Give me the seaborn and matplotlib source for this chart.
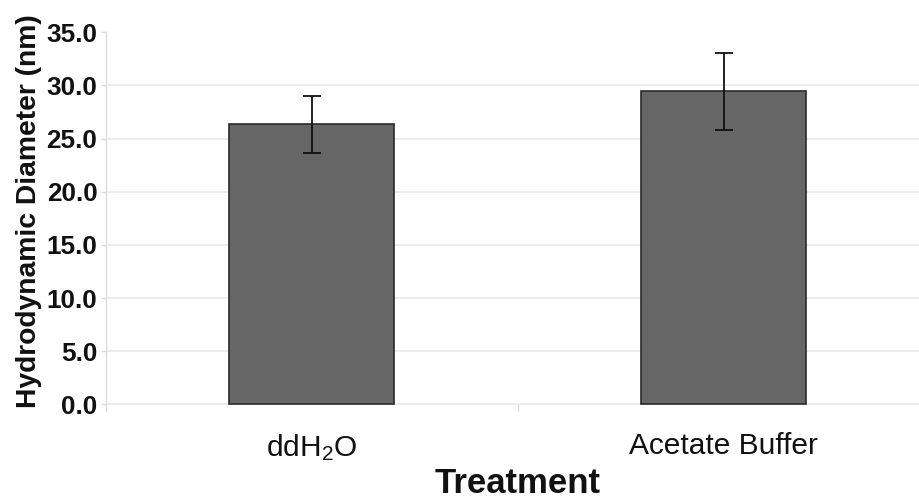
import pandas as pd
import numpy as np
import seaborn as sns
import matplotlib.pyplot as plt

# values
treatments = ['ddH$_2$O', 'Acetate Buffer']
diameter_nm = [26.33, 29.45]
diameter_sd = [2.70, 3.60]
y_ticks = [0, 5, 10, 15, 20, 25, 30, 35]


def main():
    sns.set_style('whitegrid')
    plt.rcParams['font.family'] = ['Liberation Sans', 'DejaVu Sans']
    plt.rcParams['mathtext.default'] = 'regular'

    df = pd.DataFrame({'treatment': treatments, 'diameter': diameter_nm})

    fig = plt.figure(figsize=(9.19, 4.99), dpi=100)
    ax = fig.add_axes([0.1153, 0.1764, 0.8961, 0.7589])

    sns.barplot(data=df, x='treatment', y='diameter', ax=ax, color='#666666',
                saturation=1, width=0.4, edgecolor='#2a2a2a', linewidth=1.2,
                errorbar=None)
    ax.errorbar(np.arange(len(treatments)), diameter_nm, yerr=diameter_sd,
                fmt='none', ecolor='#111111', elinewidth=1.3, capsize=6.5,
                capthick=1.3, zorder=5)

    ax.set_xlim(-0.5, 1.5)
    ax.set_ylim(-0.61, 35)
    ax.set_yticks(y_ticks)
    ax.set_yticklabels([f'{v:.1f}' for v in y_ticks], fontsize=18.8,
                       fontweight='bold', color='#111111')
    ax.set_xticks(range(len(treatments)))
    ax.set_xticklabels(treatments, fontsize=21.5, color='#111111')
    ax.set_xticks([0.5], minor=True)

    # grid and axis styling
    ax.grid(False)
    ax.yaxis.grid(True, color='#ebebeb', linewidth=1.3)
    ax.get_ygridlines()[-1].set_visible(False)
    ax.set_axisbelow(True)
    for side in ['top', 'right', 'bottom']:
        ax.spines[side].set_visible(False)
    ax.spines['left'].set_color('#dcdcdc')
    ax.spines['left'].set_linewidth(1.0)
    ax.tick_params(axis='y', which='major', left=True, length=3.6, width=1.0,
                   color='#dcdcdc', pad=2.5)
    ax.tick_params(axis='x', which='major', bottom=True, length=0, pad=15)
    ax.tick_params(axis='x', which='minor', bottom=True, direction='in',
                   length=5.3, width=1.0, color='#dcdcdc')

    ax.set_xlabel('Treatment', fontsize=25, fontweight='bold', color='#111111')
    ax.xaxis.set_label_coords(0.4995, -0.148)
    ax.set_ylabel('Hydrodynamic Diameter (nm)', fontsize=20.3,
                  fontweight='bold', color='#111111')
    ax.yaxis.set_label_coords(-0.078, 0.528)

    plt.savefig('out.png', dpi=100)


if __name__ == '__main__':
    main()
